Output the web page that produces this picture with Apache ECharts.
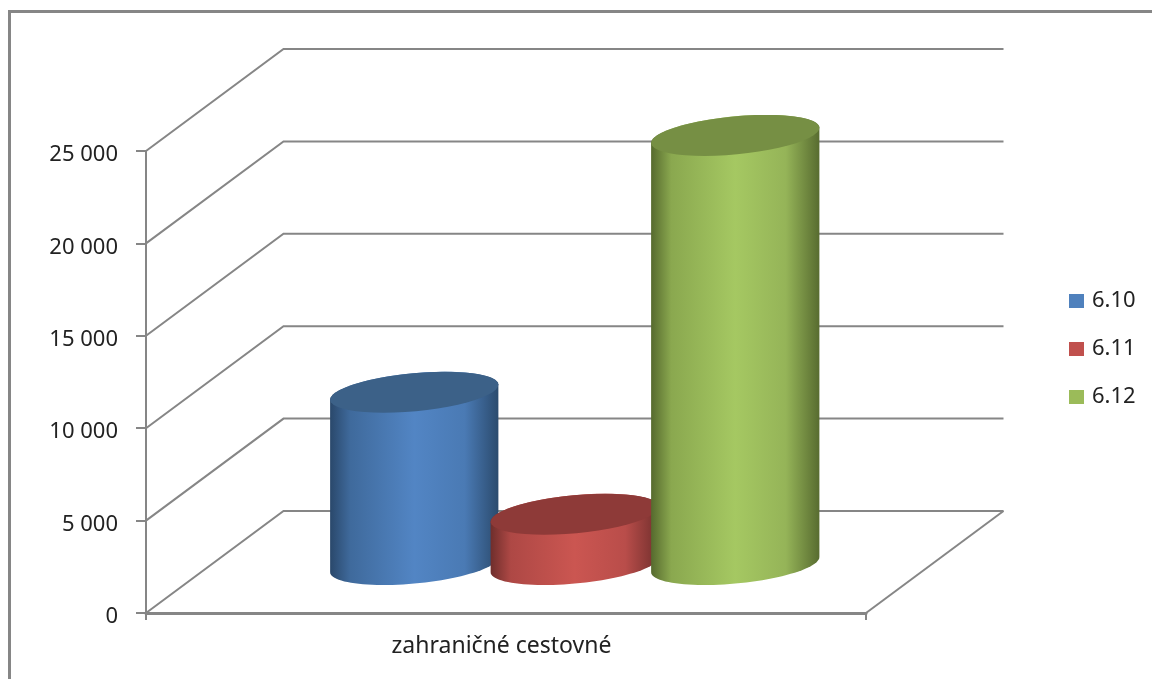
<!DOCTYPE html>
<html>
<head>
<meta charset="utf-8">
<style>
  html, body { margin: 0; padding: 0; background: #fff; }
  #main { width: 1152px; height: 679px; }
</style>
<script src="https://cdn.jsdelivr.net/npm/echarts@6/dist/echarts.min.js"></script>
</head>
<body>
<div id="main"></div>
<script>
const categories = ["zahraničné cestovné"]
const seriesNames = ["6.10", "6.11", "6.12"]
const seriesValues = [9320, 2720, 23220]
const yTicks = [0, 5000, 10000, 15000, 20000, 25000]
const bodyColors = [
  ["#2a486b", "#3f6a9c", "#5285c4", "#4a7ab4", "#2b4b6e"],
  ["#6f2e2c", "#ae4845", "#cb5651", "#b94d4a", "#722f2d"],
  ["#566a2e", "#8aa84f", "#a5c862", "#95b458", "#586c30"]
]
const legendColors = ["#4f81bd", "#c0504d", "#9bbb59"]
const topColors = ["#3c6188", "#8e3a38", "#768f44"]

// fake 3d box depth, in pixels
const DEPTH_X = 137.5
const DEPTH_Y = -102
const BASE_DY = -48.5
const CYL_A = 84.5
const CYL_B = 19
const CYL_TILT = -5.4 * Math.PI / 180
const GAP = 160.5
const GRAY = "#868686"
const FONT = "Noto Sans"

function ellipsePoint(cx, cy, t) {
  return [
    cx + CYL_A * Math.cos(t) * Math.cos(CYL_TILT) - CYL_B * Math.sin(t) * Math.sin(CYL_TILT),
    cy + CYL_A * Math.cos(t) * Math.sin(CYL_TILT) + CYL_B * Math.sin(t) * Math.cos(CYL_TILT)
  ]
}

function arc(cx, cy, from, to) {
  let pts = []
  for (let i = 0; i <= 48; i++) {
    pts.push(ellipsePoint(cx, cy, from + (to - from) * i / 48))
  }
  return pts
}

function renderWall(params, api) {
  let rect = params.coordSys
  let y = api.coord([0, api.value(1)])[1]
  let children = [{
    type: "polyline",
    shape: { points: [[rect.x, y], [rect.x + DEPTH_X, y + DEPTH_Y], [rect.x + rect.width + DEPTH_X, y + DEPTH_Y]] },
    style: { stroke: GRAY, lineWidth: 2, fill: null }
  }]
  if (api.value(1) === 0) {
    children.push({
      type: "line",
      shape: { x1: rect.x + rect.width, y1: y, x2: rect.x + rect.width + DEPTH_X, y2: y + DEPTH_Y },
      style: { stroke: GRAY, lineWidth: 2 }
    })
  }
  return { type: "group", children: children }
}

function cylinderRenderer(i) {
  return function (params, api) {
    let base = api.coord([api.value(0), 0])
    let top = api.coord([api.value(0), api.value(1)])
    let cx = base[0] + DEPTH_X / 2 + (i - 1) * GAP
    let bottomY = base[1] + BASE_DY
    let topY = top[1] + BASE_DY
    let t0 = Math.atan(-CYL_B * Math.sin(CYL_TILT) / (CYL_A * Math.cos(CYL_TILT)))
    let points = arc(cx, bottomY, t0, t0 + Math.PI).concat(arc(cx, topY, t0 + Math.PI, t0 + 2 * Math.PI))
    let stops = [0, 0.12, 0.5, 0.8, 1].map((offset, k) => ({ offset: offset, color: bodyColors[i][k] }))
    return {
      type: "group",
      children: [
        {
          type: "polygon",
          shape: { points: points },
          style: { fill: new echarts.graphic.LinearGradient(0, 0, 1, 0, stops) }
        },
        {
          type: "polygon",
          shape: { points: arc(cx, topY, 0, 2 * Math.PI) },
          style: { fill: topColors[i] }
        }
      ]
    }
  }
}

let wallSeries = {
  type: "custom",
  name: "wall",
  silent: true,
  renderItem: renderWall,
  encode: { x: 0, y: 1 },
  data: yTicks.map(t => [0, t])
}

let cylinderSeries = seriesNames.map((name, i) => ({
  type: "custom",
  name: name,
  renderItem: cylinderRenderer(i),
  encode: { x: 0, y: 1 },
  itemStyle: { color: legendColors[i] },
  data: [[0, seriesValues[i]]]
}))

var myChart = echarts.init(document.getElementById("main"))
var option = {
  animation: false,
  backgroundColor: "#fff",
  graphic: [{
    type: "rect",
    silent: true,
    shape: { x: 9.5, y: 11.5, width: 1300, height: 800 },
    style: { fill: null, stroke: GRAY, lineWidth: 3 }
  }],
  grid: { left: 146, top: 151, width: 720, height: 462 },
  legend: {
    data: seriesNames,
    orient: "vertical",
    left: 1064,
    top: 285,
    itemWidth: 15,
    itemHeight: 14,
    itemGap: 26,
    icon: "rect",
    textStyle: { fontFamily: FONT, fontSize: 22, color: "#222", padding: [0, 0, 0, 3] }
  },
  xAxis: {
    type: "category",
    data: categories,
    axisLine: { lineStyle: { color: GRAY, width: 3 } },
    axisTick: { show: true, interval: 0, alignWithLabel: false, length: 7, lineStyle: { color: GRAY, width: 2 } },
    axisLabel: { margin: 22, fontFamily: FONT, fontSize: 23, color: "#222", padding: [0, 9, 0, 0] }
  },
  yAxis: {
    type: "value",
    min: 0,
    max: 25000,
    interval: 5000,
    axisLine: { show: true, lineStyle: { color: GRAY, width: 2 } },
    axisTick: { show: true, length: 10, lineStyle: { color: GRAY, width: 2 } },
    splitLine: { show: false },
    axisLabel: {
      margin: 28,
      fontFamily: FONT,
      fontSize: 22,
      color: "#222",
      verticalAlign: "top",
      lineHeight: 8,
      formatter: v => String(v).replace(/\B(?=(\d{3})+$)/g, " ")
    }
  },
  series: [wallSeries].concat(cylinderSeries)
}
myChart.setOption(option)
</script>
</body>
</html>
